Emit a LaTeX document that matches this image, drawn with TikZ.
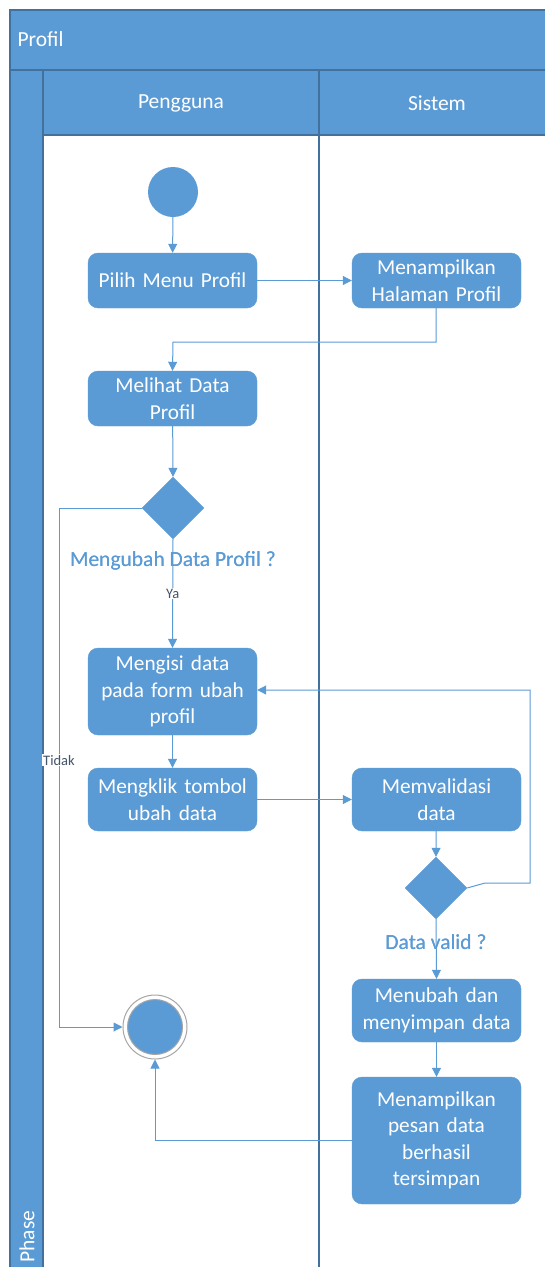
\documentclass[tikz,border=0pt]{standalone}
\usepackage{fontspec}
\setmainfont{Carlito}
\usetikzlibrary{arrows.meta,shapes.geometric}
\definecolor{fillblue}{HTML}{5B9BD5}
\definecolor{edgeblue}{HTML}{41719C}
\definecolor{lineblue}{HTML}{5B9BD5}
\definecolor{labeldark}{HTML}{44546A}
\begin{document}
\begin{tikzpicture}[x=1pt,y=-1pt,
  act/.style={draw=fillblue,fill=fillblue,rounded corners=10pt,minimum width=169pt,
    text width=165pt,align=center,text=white,font=\fontsize{21.3}{26.5}\selectfont,inner sep=1pt},
  decision/.style={diamond,draw=fillblue,fill=fillblue,minimum width=62pt,minimum height=62pt,inner sep=0pt},
  flow/.style={draw=lineblue,line width=1pt,-{Triangle[length=9pt,width=9pt]}},
  band/.style={draw=edgeblue,line width=1.2pt,fill=fillblue},
  hdr/.style={text=white,font=\fontsize{21.5}{25}\selectfont},
  cond/.style={text=fillblue,font=\fontsize{21.5}{25}\selectfont},
  small/.style={text=labeldark,font=\fontsize{14.5}{16}\selectfont,fill=white,inner sep=1pt}]
\useasboundingbox (0,0) rectangle (544,1267);
% pool frame, title band and phase column
\fill[white] (10,10) rectangle (544,1267);
\draw[band] (10,10) rectangle (546,70);
\draw[band] (10,70) rectangle (43,1269);
\draw[band] (43,70) rectangle (319,135);
\draw[band] (319,70) rectangle (546,135);
\draw[edgeblue,line width=1.6pt] (319,135) -- (319,1269);
\node[hdr,anchor=west] (pool) at (14,39) {Profil};
\node[hdr] (lane1) at (181,103) {Pengguna};
\node[hdr] (lane2) at (437,103) {Sistem};
\node[hdr,rotate=90,anchor=west] (phase) at (27,1266) {Phase};
% activities
\node[circle,fill=fillblue,minimum size=50pt,inner sep=0pt] (start) at (173,192) {};
\node[act,minimum height=55pt] (pilih) at (172.5,280.5) {Pilih Menu Profil};
\node[act,minimum height=55pt] (tampil) at (436.5,280.5) {Menampilkan\\Halaman Profil};
\node[act,minimum height=55pt] (lihat) at (172.5,398.5) {Melihat Data\\Profil};
\node[decision] (d1) at (173,508) {};
\node[cond] (d1lbl) at (173,561) {Mengubah Data Profil ?};
\node[act,minimum height=87pt] (isi) at (172.5,691.5) {Mengisi data\\pada form ubah\\profil};
\node[act,minimum height=63pt] (klik) at (172.5,799.5) {Mengklik tombol\\ubah data};
\node[act,minimum height=63pt] (valid) at (436.5,799.5) {Memvalidasi\\data};
\node[decision] (d2) at (436,888) {};
\node[cond] (d2lbl) at (436,942) {Data valid ?};
\node[act,minimum height=63pt] (ubah) at (436.5,1010.5) {Menubah dan\\menyimpan data};
\node[act,minimum height=127pt] (pesan) at (436.5,1140.5) {Menampilkan\\pesan data\\berhasil\\tersimpan};
\node[circle,draw=gray!70,line width=1pt,fill=white,minimum size=64pt,inner sep=0pt] (end) at (155,1027) {};
\node[circle,draw=gray!70,line width=1pt,fill=fillblue,minimum size=55pt,inner sep=0pt] (endin) at (155,1027) {};
% connectors
\coordinate (c1) at (436,342);
\coordinate (c2) at (173,342);
\coordinate (c3) at (59,508);
\coordinate (c4) at (59,1027);
\coordinate (c5) at (485,883);
\coordinate (c6) at (530,883);
\coordinate (c7) at (530,690);
\coordinate (c8) at (155,1140);
\draw[flow] (start) -- (pilih);
\draw[flow] (pilih) -- (tampil);
\draw[flow] (tampil.south -| c1) -- (c1) -- (c2) -- (lihat.north);
\draw[flow] (lihat) -- (d1.north);
\draw[flow] (d1.south) -- node[small,pos=0.5] (ya) {Ya} (isi.north);
\draw[flow] (d1.west) -- (c3) -- node[small,pos=0.486] (tidak) {Tidak} (c4) -- (end.west);
\draw[flow] (isi) -- (klik);
\draw[flow] (klik) -- (valid);
\draw[flow] (valid) -- (d2.north);
\draw[flow] (d2.east) -- (c5) -- (c6) -- (c7) -- (c7 -| isi.east);
\draw[flow] (d2.south) -- (ubah.north);
\draw[flow] (ubah) -- (pesan);
\draw[flow] (pesan.west |- c8) -- (c8) -- (end.south);
% condition texts sit above the lines
\node[cond] at (d1lbl) {Mengubah Data Profil ?};
\node[cond] at (d2lbl) {Data valid ?};
\end{tikzpicture}
\end{document}
